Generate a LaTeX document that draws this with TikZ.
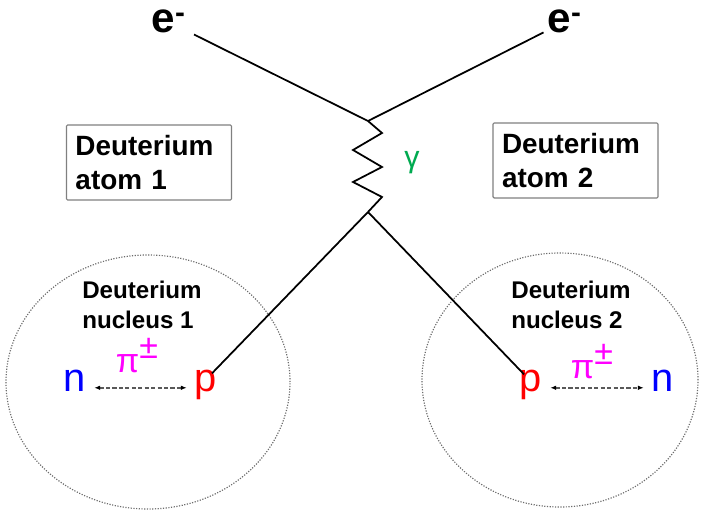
\documentclass[tikz,border=0pt]{standalone}
\usepackage{fontspec}
\setmainfont{Liberation Sans}
\usetikzlibrary{arrows.meta,shapes.geometric}

\definecolor{nucleonBlue}{RGB}{0,0,255}
\definecolor{nucleonRed}{RGB}{255,0,0}
\definecolor{pionMagenta}{RGB}{255,0,255}
\definecolor{photonGreen}{RGB}{0,170,80}
\definecolor{frameGray}{RGB}{128,128,128}

\begin{document}
\begin{tikzpicture}[x=0.03cm, y=-0.03cm,
   fermion/.style={draw=black, line width=1.5pt},
   electron/.style={font=\fontsize{36}{40}\selectfont\bfseries, inner sep=2pt, anchor=base west},
   atombox/.style={draw=frameGray, line width=1pt, rounded corners=1pt, align=left,
             text width=4.41cm, inner sep=0.27cm, minimum height=2.25cm,
             font=\fontsize{23.8}{29}\selectfont\bfseries},
   nuclabel/.style={align=left, font=\fontsize{20.6}{25.5}\selectfont\bfseries},
   nucleus/.style={ellipse, draw=gray!85!black, line width=1pt, dash pattern=on 1pt off 1.3pt,
             inner sep=0pt},
   nucleon/.style={font=\fontsize{34}{40}\selectfont, anchor=base, inner sep=0.24cm,
             text height=0.55em, text depth=0pt},
   pionlabel/.style={font=\fontsize{29}{34}\selectfont, text=pionMagenta, anchor=base, inner sep=0pt},
   pionline/.style={draw=gray!70!black, line width=1.3pt, dash pattern=on 3.5pt off 2pt,
             {Latex[length=5pt,width=4pt,black]}-{Latex[length=5pt,width=4pt,black]}}]

  \useasboundingbox (0,0) rectangle (701,513);

  % ===== Electrons et photon =====
  \node[electron] (eL) at (149,33) {e\textsuperscript{-}};
  \node[electron] (eR) at (545,33) {e\textsuperscript{-}};
  \coordinate (vtop) at (368,121);
  \coordinate (vbot) at (368,212);
  \draw[fermion, shorten <=0.2cm] (eL) -- (vtop);
  \draw[fermion, shorten <=0.05cm] (eR) -- (vtop);
  \draw[fermion] (vtop) -- (382,133) -- (353,150) -- (382,167) -- (353,182) -- (382,197) -- (vbot);
  \node[text=photonGreen, font=\fontsize{26}{30}\selectfont] (gam) at (412,163) {γ};

  % ===== Atomes =====
  \node[atombox] (atom1) at (149,162.5) {Deuterium\\atom 1};
  \node[atombox] (atom2) at (575.5,160.5) {Deuterium\\atom 2};

  % ===== Noyau 1 =====
  \node[nucleus, minimum width=8.52cm, minimum height=7.62cm] (nuc1) at (148,382) {};
  \node[nuclabel] (lab1) at (142,305) {Deuterium\\nucleus 1};
  \node[nucleon, text=nucleonBlue] (n1) at (75,391) {n};
  \node[nucleon, text=nucleonRed] (p1) at (206,391) {p};
  \draw[pionline] (n1) -- (p1);
  \node[pionlabel] (pi1) at (137,372) {π\raisebox{0.4em}{±}};

  % ===== Noyau 2 =====
  \node[nucleus, minimum width=8.28cm, minimum height=7.62cm] (nuc2) at (560,380) {};
  \node[nuclabel] (lab2) at (571,305) {Deuterium\\nucleus 2};
  \node[nucleon, text=nucleonRed] (p2) at (531,391) {p};
  \node[nucleon, text=nucleonBlue] (n2) at (663,391) {n};
  \draw[pionline] (p2) -- (n2);
  \node[pionlabel] (pi2) at (592,378) {π\raisebox{0.4em}{±}};

  \draw[fermion] (vbot) -- ([shift={(6,-3)}]p1.north);
  \draw[fermion] (vbot) -- ([shift={(-7,-2)}]p2.north);

\end{tikzpicture}
\end{document}
